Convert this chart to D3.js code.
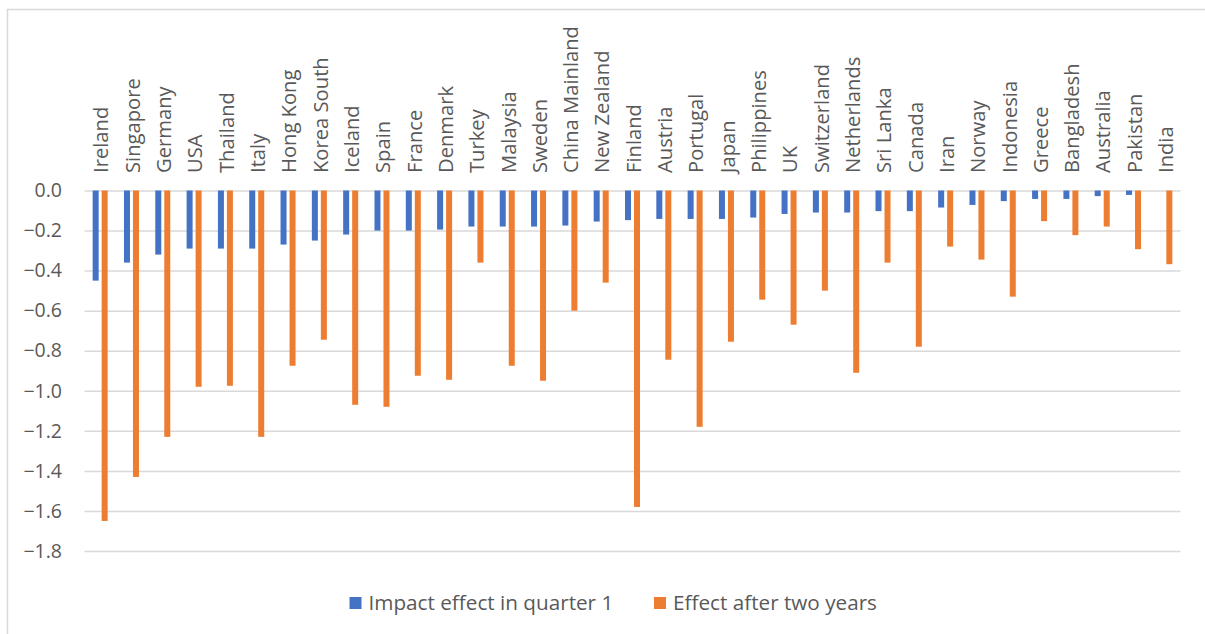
<!DOCTYPE html>
<html>
<head>
<meta charset="utf-8">
<script src="https://cdn.jsdelivr.net/npm/d3@7"></script>
<style>
  html, body { margin: 0; padding: 0; background: #fff; }
  svg { display: block; }
</style>
</head>
<body>
<svg id="chart" width="1205" height="634"></svg>
<script>
// Countries in chart order
const countries = [
  "Ireland", "Singapore", "Germany", "USA", "Thailand", "Italy", "Hong Kong",
  "Korea South", "Iceland", "Spain", "France", "Denmark", "Turkey", "Malaysia",
  "Sweden", "China Mainland", "New Zealand", "Finland", "Austria", "Portugal",
  "Japan", "Philippines", "UK", "Switzerland", "Netherlands", "Sri Lanka",
  "Canada", "Iran", "Norway", "Indonesia", "Greece", "Bangladesh", "Australia",
  "Pakistan", "India"
];

const impactQ1 = [
  -0.45, -0.36, -0.32, -0.29, -0.29, -0.29, -0.27,
  -0.25, -0.22, -0.20, -0.20, -0.195, -0.18, -0.18,
  -0.18, -0.175, -0.155, -0.148, -0.142, -0.142,
  -0.142, -0.135, -0.117, -0.11, -0.11, -0.103,
  -0.103, -0.085, -0.072, -0.053, -0.042, -0.042, -0.028,
  -0.022, 0
];

const afterTwoYears = [
  -1.65, -1.43, -1.23, -0.98, -0.975, -1.23, -0.875,
  -0.745, -1.07, -1.08, -0.925, -0.945, -0.36, -0.875,
  -0.95, -0.60, -0.46, -1.58, -0.845, -1.18,
  -0.755, -0.545, -0.67, -0.50, -0.91, -0.36,
  -0.78, -0.28, -0.345, -0.53, -0.153, -0.223, -0.18,
  -0.293, -0.368
];

const seriesNames = ["Impact effect in quarter 1", "Effect after two years"];
const seriesColors = ["#4472C4", "#ED7D31"];
const yTicks = [0, -0.2, -0.4, -0.6, -0.8, -1.0, -1.2, -1.4, -1.6, -1.8];

const font = "'Open Sans', 'Noto Sans', sans-serif";
const textColor = "#595959";
const gridColor = "#d9d9d9";

const rows = countries.map((c, i) => ({ country: c, values: [impactQ1[i], afterTwoYears[i]] }));

const svg = d3.select("#chart");

// outer frame (right/bottom edges fall outside the picture)
svg.append("rect")
  .attr("x", 7.5).attr("y", 9.5)
  .attr("width", 1400).attr("height", 800)
  .attr("fill", "#fff")
  .attr("stroke", gridColor)
  .attr("stroke-width", 1.5);

const x0 = d3.scaleBand()
  .domain(countries)
  .range([84.5, 1180.5]);

const x1 = d3.scaleBand()
  .domain(d3.range(seriesNames.length))
  .range([0, 15])
  .paddingInner(1 / 3);

const y = d3.scaleLinear()
  .domain([-1.8, 0])
  .range([551, 190.5]);

// horizontal grid lines
svg.append("g")
  .attr("transform", "translate(84.5,0)")
  .call(d3.axisLeft(y).tickValues(yTicks).tickSize(-(1180.5 - 84.5)).tickFormat(""))
  .call(g => g.select(".domain").remove())
  .call(g => g.selectAll(".tick line").attr("stroke", gridColor).attr("stroke-width", 1.5));

// y tick labels
svg.append("g")
  .attr("transform", "translate(62,0)")
  .call(d3.axisLeft(y).tickValues(yTicks).tickSize(0).tickPadding(0).tickFormat(d3.format(".1f")))
  .call(g => g.select(".domain").remove())
  .call(g => g.selectAll(".tick text")
    .attr("fill", textColor)
    .attr("font-size", "19.5px")
    .style("font-family", font));

// bars
const groups = svg.append("g")
  .selectAll("g")
  .data(rows)
  .join("g")
  .attr("transform", d => `translate(${x0(d.country) + x0.bandwidth() / 2 - 7.5},0)`);

groups.selectAll("rect")
  .data(d => d.values.map((v, k) => ({ k, v })))
  .join("rect")
  .attr("x", d => x1(d.k))
  .attr("width", x1.bandwidth())
  .attr("y", y(0))
  .attr("height", d => y(d.v) - y(0))
  .attr("fill", d => seriesColors[d.k]);

// category labels, rotated, above the zero line
svg.append("g")
  .selectAll("text")
  .data(countries)
  .join("text")
  .attr("transform", d => `translate(${x0(d) + x0.bandwidth() / 2 + 1},173) rotate(-90)`)
  .attr("text-anchor", "start")
  .attr("dy", "0.36em")
  .attr("fill", textColor)
  .attr("font-size", "20.2px")
  .style("font-family", font)
  .text(d => d);

// legend
const legendX = [349.5, 654];
const legend = svg.append("g")
  .selectAll("g")
  .data(seriesNames)
  .join("g")
  .attr("transform", (d, i) => `translate(${legendX[i]},603)`);

legend.append("rect")
  .attr("x", 0).attr("y", -6)
  .attr("width", 12).attr("height", 12)
  .attr("fill", (d, i) => seriesColors[i]);

legend.append("text")
  .attr("x", 19)
  .attr("dy", "0.36em")
  .attr("fill", textColor)
  .attr("font-size", "20.7px")
  .style("font-family", font)
  .text(d => d);
</script>
</body>
</html>
